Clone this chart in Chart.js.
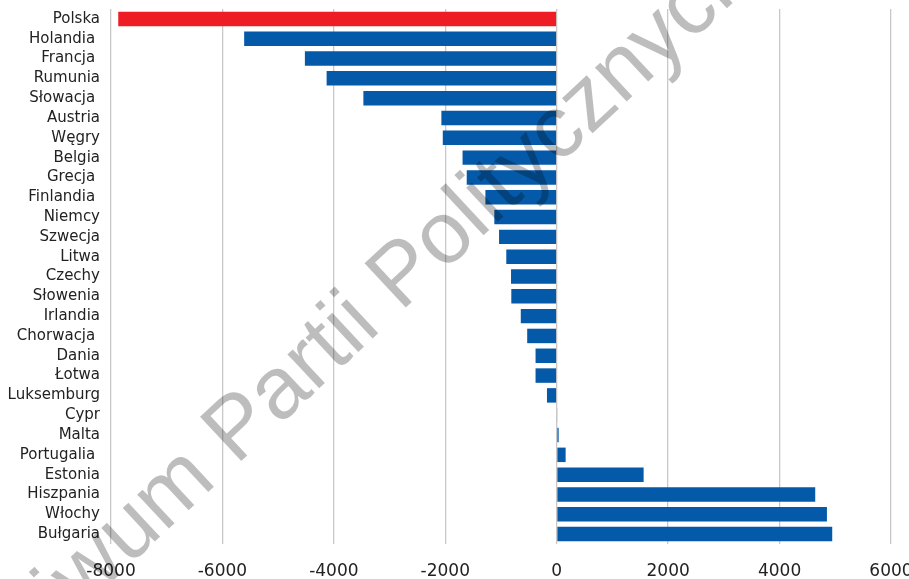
<!DOCTYPE html>
<html lang="pl">
<head>
<meta charset="utf-8">
<script src="https://cdn.jsdelivr.net/npm/chart.js@4.4.1/dist/chart.umd.min.js"></script>
<style>
    html, body { margin: 0; padding: 0; background: #fff; }
    #wykres { display: block; }
</style>
</head>
<body>
<canvas id="wykres" width="909" height="579"></canvas>
<script>
// kraje UE (etykiety z oryginalnymi spacjami)
const kraje = [
    "Polska", "Holandia ", "Francja ", "Rumunia", "Słowacja ", "Austria", "Węgry",
    "Belgia", "Grecja ", "Finlandia ", "Niemcy", "Szwecja", "Litwa", "Czechy",
    "Słowenia", "Irlandia", "Chorwacja ", "Dania", "Łotwa", "Luksemburg", "Cypr",
    "Malta", "Portugalia ", "Estonia", "Hiszpania", "Włochy", "Bułgaria"
];

const wartosci = [
    -7870, -5610, -4520, -4130, -3470, -2070, -2045,
    -1690, -1615, -1280, -1120, -1035, -905, -820,
    -815, -645, -530, -380, -380, -175, 10,
    35, 160, 1560, 4640, 4850, 4945
];

const osX = { min: -8000, max: 6000, krok: 2000 };

const NIEBIESKI = "#0459a9";
const CZERWONY = "#ee1c25";

const kolory = kraje.map(k => k.trim() === "Polska" ? CZERWONY : NIEBIESKI);

// napis znaku wodnego, rysowany na wierzchu
const znakWodny = {
    id: "znakWodny",
    afterDraw(chart) {
        const ctx = chart.ctx;
        ctx.save();
        ctx.font = "88px 'Liberation Sans', Arial, sans-serif";
        ctx.fillStyle = "rgba(0, 0, 0, 0.26)";
        ctx.textBaseline = "alphabetic";
        ctx.translate(236, 466);
        ctx.rotate(-43 * Math.PI / 180);
        const przed = ctx.measureText("Archiwum ").width;
        ctx.fillText("Archiwum Partii Politycznych", -przed, 0);
        ctx.restore();
    }
};

new Chart(document.getElementById("wykres"), {
    type: "bar",
    data: {
        labels: kraje,
        datasets: [{
            data: wartosci,
            backgroundColor: kolory,
            borderWidth: 0,
            barPercentage: 0.73,
            categoryPercentage: 1.0
        }]
    },
    options: {
        indexAxis: "y",
        responsive: false,
        animation: false,
        layout: { padding: { left: 0, right: 18, top: 9, bottom: 0 } },
        plugins: {
            legend: { display: false },
            tooltip: { enabled: false }
        },
        scales: {
            x: {
                min: osX.min,
                max: osX.max,
                ticks: {
                    stepSize: osX.krok,
                    color: "#222",
                    padding: 17,
                    font: { family: "'DejaVu Sans'", size: 17 },
                    maxRotation: 0,
                    callback: v => String(v)
                },
                grid: { color: "#c8c8c8", lineWidth: 1.3, drawTicks: false },
                border: { display: false },
                afterFit(scale) {
                    scale.height = 35;
                    scale.paddingLeft = 0;
                    scale.paddingRight = 0;
                }
            },
            y: {
                ticks: {
                    color: "#222",
                    padding: 11,
                    autoSkip: false,
                    font: { family: "'DejaVu Sans'", size: 15 }
                },
                grid: { display: false, drawTicks: false },
                border: { display: false },
                afterFit(scale) {
                    scale.width = 111;
                    scale.paddingTop = 0;
                    scale.paddingBottom = 0;
                }
            }
        }
    },
    plugins: [znakWodny]
});
</script>
</body>
</html>
